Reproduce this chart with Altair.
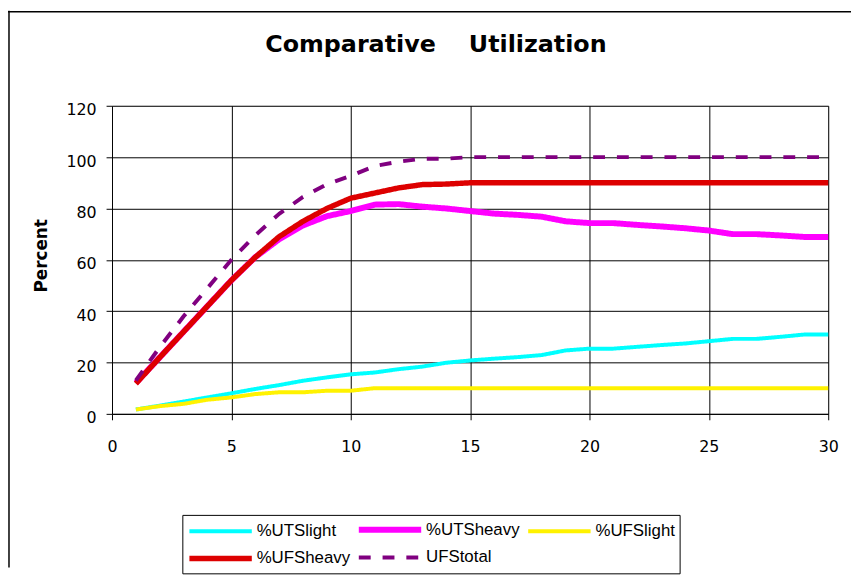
import altair as alt
import pandas as pd

# ---------------- data ----------------
x_vals = list(range(1, 31))

uts_light = [1.7, 3.2, 4.8, 6.4, 8.0, 9.7, 11.2, 12.9, 14.2, 15.4,
             16.1, 17.4, 18.4, 19.9, 20.8, 21.5, 22.1, 22.9, 24.7, 25.4,
             25.4, 26.1, 26.8, 27.4, 28.3, 29.2, 29.2, 30.0, 30.9, 30.9]
uts_heavy = [12.0, 22.0, 32.0, 42.0, 52.0, 61.0, 68.0, 73.4, 77.0, 79.0,
             81.5, 81.7, 80.7, 80.0, 79.0, 78.0, 77.5, 76.8, 75.0, 74.3,
             74.3, 73.6, 73.0, 72.3, 71.4, 70.0, 70.0, 69.5, 68.9, 68.9]
ufs_light = [1.7, 3.0, 3.9, 5.5, 6.4, 7.7, 8.4, 8.4, 9.0, 9.0,
             10.0, 10.0, 10.0, 10.0, 10.0, 10.0, 10.0, 10.0, 10.0, 10.0,
             10.0, 10.0, 10.0, 10.0, 10.0, 10.0, 10.0, 10.0, 10.0, 10.0]
ufs_heavy = [11.8, 22.0, 32.0, 42.0, 52.0, 61.0, 69.0, 75.0, 80.0, 84.0,
             86.0, 88.0, 89.3, 89.5, 90.0, 90.0, 90.0, 90.0, 90.0, 90.0,
             90.0, 90.0, 90.0, 90.0, 90.0, 90.0, 90.0, 90.0, 90.0, 90.0]
ufs_total = [13.0, 26.0, 38.0, 49.0, 60.0, 69.5, 77.9, 84.5, 89.4, 92.7,
             96.5, 98.2, 99.4, 99.4, 100.0, 100.0, 100.0, 100.0, 100.0, 100.0,
             100.0, 100.0, 100.0, 100.0, 100.0, 100.0, 100.0, 100.0, 100.0, 100.0]

series_names = ["%UTSlight", "%UTSheavy", "%UFSlight", "%UFSheavy", "UFStotal"]
series_values = [uts_light, uts_heavy, ufs_light, ufs_heavy, ufs_total]
series_colors = ["#00FFFF", "#FF00FF", "#FFF200", "#DD0000", "#800080"]
series_widths = [4, 6, 4, 5.5, 4]
series_dashes = [[1, 0], [1, 0], [1, 0], [1, 0], [12, 12]]

x_ticks = [0, 5, 10, 15, 20, 25, 30]
y_ticks = [0, 20, 40, 60, 80, 100, 120]

chart_title = "Comparative\u00a0\u00a0\u00a0\u00a0Utilization"
y_title = "Percent"

rows = []
for name, vals in zip(series_names, series_values):
    for xv, yv in zip(x_vals, vals):
        rows.append({"x": xv, "value": yv, "series": name})
df = pd.DataFrame(rows)

# ---------------- chart ----------------
legend = alt.Legend(
    title=None,
    orient="none",
    direction="horizontal",
    legendX=71,
    legendY=413,
    columns=3,
    gridAlign="all",
    symbolType="M-1,0H7",
    symbolSize=248,
    labelOffset=49,
    labelFont="Liberation Sans",
    labelFontSize=17,
    labelColor="black",
    columnPadding=-4,
    rowPadding=6,
    padding=4,
    strokeColor="black",
    fillColor="white",
    symbolOpacity=1,
)

base = alt.Chart(df).mark_line(strokeCap="butt", strokeJoin="round").encode(
    x=alt.X("x:Q",
            scale=alt.Scale(domain=[0, 30], nice=False),
            axis=alt.Axis(values=x_ticks, title=None, grid=True, gridColor="black",
                          gridWidth=1, gridOpacity=1, domain=True, domainColor="black",
                          domainWidth=1, tickColor="black", tickSize=6, tickWidth=1,
                          labelFont="DejaVu Sans", labelFontSize=16, labelColor="black",
                          labelPadding=19, labelFlush=False, labelOverlap=False)),
    y=alt.Y("value:Q",
            scale=alt.Scale(domain=[0, 120], nice=False),
            axis=alt.Axis(values=y_ticks, title=y_title, grid=True, gridColor="black",
                          gridWidth=1, gridOpacity=1, domain=False,
                          tickColor="black", tickSize=6, tickWidth=1,
                          labelFont="DejaVu Sans", labelFontSize=16, labelColor="black",
                          labelPadding=10, labelOffset=4, labelFlush=False,
                          labelOverlap=False,
                          titleFont="DejaVu Sans", titleFontSize=17, titleFontWeight="bold",
                          titleColor="black", titleX=-66, titleY=151, titleAngle=270,
                          titleAlign="center", titleBaseline="alphabetic")),
    color=alt.Color("series:N", scale=alt.Scale(domain=series_names, range=series_colors),
                    legend=legend),
    strokeWidth=alt.StrokeWidth("series:N",
                                scale=alt.Scale(type="ordinal", domain=series_names,
                                                range=series_widths),
                                legend=legend),
    strokeDash=alt.StrokeDash("series:N",
                              scale=alt.Scale(domain=series_names, range=series_dashes),
                              legend=legend),
)

layers = [base.transform_filter(alt.datum.series == s) for s in series_names]

frame_data = alt.Data(values=[{"k": 1}])
frame_left = alt.Chart(frame_data).mark_rule(color="black", strokeWidth=1.5).encode(
    x=alt.value(-104), y=alt.value(-96), y2=alt.value(466))
frame_top = alt.Chart(frame_data).mark_rule(color="black", strokeWidth=1.5).encode(
    x=alt.value(-105), x2=alt.value(746), y=alt.value(-95))

title_data = alt.Data(values=[{"t": chart_title}])
title_mark = alt.Chart(title_data).mark_text(
    font="DejaVu Sans", fontSize=24, fontWeight="bold", color="black",
    align="center", baseline="alphabetic"
).encode(text="t:N", x=alt.value(327), y=alt.value(-54))

chart = alt.layer(*layers, frame_left, frame_top, title_mark).properties(
    width=723,
    height=311,
    autosize=alt.AutoSizeParams(type="none"),
    padding={"left": 105, "top": 96, "right": 23, "bottom": 163},
).configure_view(
    stroke="#808080", strokeWidth=3
).configure(background="white")

chart.save("out.html", embed_options={"renderer": "svg", "actions": False})
